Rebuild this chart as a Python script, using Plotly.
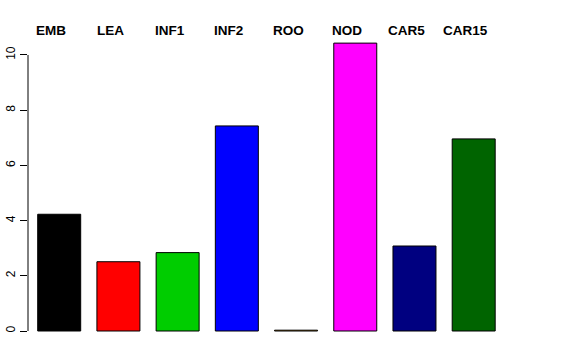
import plotly.graph_objects as go

categories = ["EMB", "LEA", "INF1", "INF2", "ROO", "NOD", "CAR5", "CAR15"]
values = [4.23, 2.51, 2.84, 7.43, 0.03, 10.43, 3.08, 6.96]
colors = ["#000000", "#FF0000", "#00CD00", "#0000FF", "#FFA500", "#FF00FF", "#000080", "#006400"]
y_ticks = [0, 2, 4, 6, 8, 10]

fig = go.Figure()
fig.add_trace(go.Bar(
    x=categories, y=values,
    marker=dict(color=colors, line=dict(color="#000000", width=1)),
    width=0.726,
    hoverinfo="skip",
))

for c in categories:
    fig.add_annotation(
        x=c, y=1.0048, xref="x", yref="paper", text="<b>%s</b>" % c,
        showarrow=False, yanchor="middle", xanchor="center", xshift=-8,
        font=dict(family="Liberation Sans, Arial, sans-serif", size=13.5, color="#000000"),
    )

fig.add_shape(type="line", xref="paper", yref="y", x0=0, x1=0,
              y0=y_ticks[0], y1=y_ticks[-1], line=dict(color="#000000", width=1))

fig.update_layout(
    width=576, height=360,
    margin=dict(l=28, r=72, t=32, b=14, autoexpand=False),
    paper_bgcolor="white", plot_bgcolor="white",
    showlegend=False,
    hovermode=False,
    font=dict(family="Liberation Sans, Arial, sans-serif", size=12, color="#000000"),
    xaxis=dict(range=[-0.527, 7.512], showticklabels=False, ticks="", automargin=False,
               showgrid=False, zeroline=False, showline=False, type="category"),
    yaxis=dict(range=[-0.543, 10.833], tickvals=y_ticks, ticktext=[str(v) for v in y_ticks],
               ticks="outside", ticklen=7, tickcolor="#000000", tickwidth=1, automargin=False,
               tickangle=-90, showgrid=False, zeroline=False, showline=False,
               tickfont=dict(size=12)),
)

fig.write_html("out.html", config={"displayModeBar": False, "staticPlot": True},
               post_script="document.body.style.margin='0';document.body.style.overflow='hidden';")
